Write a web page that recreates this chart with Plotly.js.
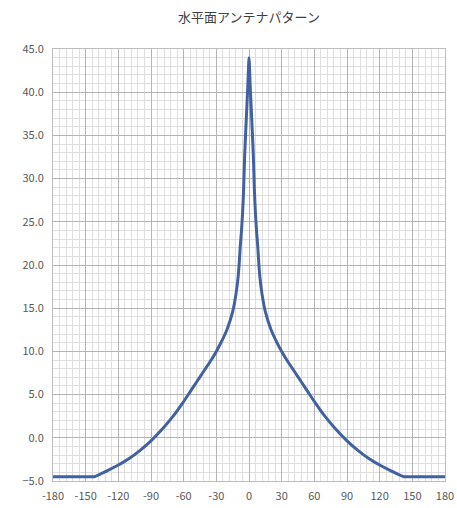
<!DOCTYPE html>
<html>
<head>
<meta charset="utf-8">
<script src="https://cdn.plot.ly/plotly-3.0.1.min.js"></script>
<style>html,body{margin:0;padding:0;background:#fff;}#chart{width:457px;height:508px;}</style>
</head>
<body>
<div id="chart"></div>
<script>
// Angles (deg) and gain (dB)
const angles = [-180,-150,-142,-130,-120,-110,-100,-90,-80,-70,-65,-60,-55,-50,-45,-40,-35,-30,-25,-20,-15,-12,-10,-9,-8,-7,-6,-5,-4,-3,-2,-1,0,
                1,2,3,4,5,6,7,8,9,10,12,15,20,25,30,35,40,45,50,55,60,65,70,80,90,100,110,120,130,142,150,180];
const gain = [-4.5,-4.5,-4.5,-3.8,-3.15,-2.4,-1.45,-0.35,0.95,2.45,3.3,4.2,5.15,6.1,7.05,8.0,8.95,10.0,11.2,12.6,14.6,16.6,18.6,20.2,22.2,23.8,25.8,28.5,32.6,35.5,38.2,41.0,44.0,
              41.0,38.2,35.5,32.6,28.5,25.8,23.8,22.2,20.2,18.6,16.6,14.6,12.6,11.2,10.0,8.95,8.0,7.05,6.1,5.15,4.2,3.3,2.45,0.95,-0.35,-1.45,-2.4,-3.15,-3.8,-4.5,-4.5,-4.5];
const xTicks = [-180,-150,-120,-90,-60,-30,0,30,60,90,120,150,180];
const chartTitle = '水平面アンテナパターン';

const trace = {
  x: angles, y: gain, type: 'scatter', mode: 'lines',
  line: {color: '#4261a0', width: 3, shape: 'spline', smoothing: 0.6},
  hoverinfo: 'skip'
};
const font = {family: '"Noto Sans CJK JP", "Noto Sans", sans-serif', size: 11, color: '#595959'};
const layout = {
  width: 457, height: 508,
  margin: {l: 53, r: 12, t: 49, b: 27},
  paper_bgcolor: '#ffffff', plot_bgcolor: '#ffffff',
  showlegend: false,
  font: font,
  title: {text: chartTitle, x: 0.5, xref: 'paper', y: 0.965, yref: 'container', yanchor: 'middle',
          font: {family: '"Noto Sans CJK JP", sans-serif', size: 13, color: '#404040'}},
  xaxis: {
    range: [-180, 180], tickvals: xTicks, ticktext: xTicks.map(String),
    showgrid: true, gridcolor: '#b4b4b4', gridwidth: 1,
    minor: {dtick: 6, tick0: -180, showgrid: true, gridcolor: '#dedede', gridwidth: 1, ticks: ''},
    zeroline: false, showline: true, linecolor: '#bdbdbd', mirror: true,
    ticks: '', ticklen: 0, ticklabelstandoff: 5, tickfont: font, fixedrange: true
  },
  yaxis: {
    range: [-5, 45], dtick: 5, tick0: -5, tickformat: '.1f',
    showgrid: true, gridcolor: '#b4b4b4', gridwidth: 1,
    minor: {dtick: 1, showgrid: true, gridcolor: '#dedede', gridwidth: 1, ticks: ''},
    zeroline: false, showline: true, linecolor: '#bdbdbd', mirror: true,
    ticks: '', ticklen: 0, ticklabelstandoff: 6, tickfont: font, fixedrange: true
  }
};
Plotly.newPlot('chart', [trace], layout, {displayModeBar: false, staticPlot: true});
</script>
</body>
</html>
